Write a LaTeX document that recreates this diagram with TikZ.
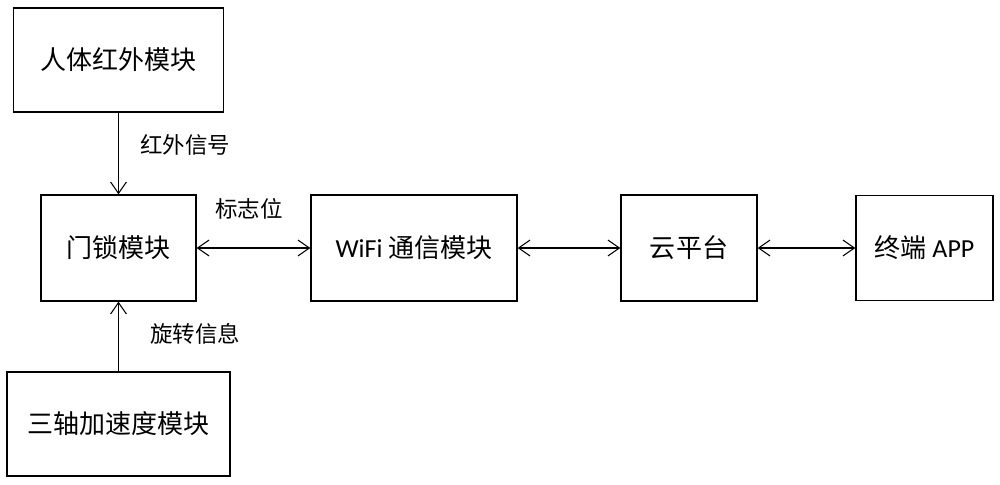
\documentclass[tikz,border=0pt]{standalone}
\usepackage{fontspec}
\setmainfont{Carlito}
\newfontfamily\cjk{Noto Sans CJK SC}
\usepackage{tikz}
\usetikzlibrary{arrows.meta}

\begin{document}
\begin{tikzpicture}[
	modulo/.style={draw, line width=0.75pt, inner sep=0pt, font=\fontsize{14.8}{16}\selectfont\cjk},
	rotulo/.style={inner sep=0pt, font=\fontsize{12.8}{14}\selectfont\cjk},
	seta/.style={line width=0.6pt, -{Straight Barb[length=6.5pt,width=9pt]}},
	seta2/.style={line width=0.6pt, {Straight Barb[length=6.5pt,width=9pt]}-{Straight Barb[length=6.5pt,width=9pt]}}
	]
	\useasboundingbox (0,0) rectangle (20,-9.7);

	\node[modulo, minimum width=4.2cm,  minimum height=2.08cm] (hw)   at (2.37,-1.2)   {人体红外模块};
	\node[modulo, minimum width=3.1cm,  minimum height=2.12cm] (ms)   at (2.37,-4.96)  {门锁模块};
	\node[modulo, minimum width=4.46cm, minimum height=2.08cm] (jsd)  at (2.37,-8.48)  {三轴加速度模块};
	\node[modulo, minimum width=4.12cm, minimum height=2.12cm] (wifi) at (8.28,-4.96)  {{\rmfamily WiFi} 通信模块};
	\node[modulo, minimum width=2.72cm, minimum height=2.12cm] (yun)  at (13.78,-4.96) {云平台};
	\node[modulo, minimum width=2.74cm, minimum height=2.1cm]  (app)  at (18.49,-4.96) {终端 {\rmfamily APP}};

	\node[rotulo] (l1) at (3.7,-2.9)   {红外信号};
	\node[rotulo] (l2) at (4.98,-4.18) {标志位};
	\node[rotulo] (l3) at (3.9,-6.68)  {旋转信息};

	\draw[seta] (hw) -- (ms);
	\draw[seta] (jsd) -- (ms);
	\draw[seta2] (ms) -- (wifi);
	\draw[seta2] (wifi) -- (yun);
	\draw[seta2] (yun) -- (app);
\end{tikzpicture}
\end{document}
